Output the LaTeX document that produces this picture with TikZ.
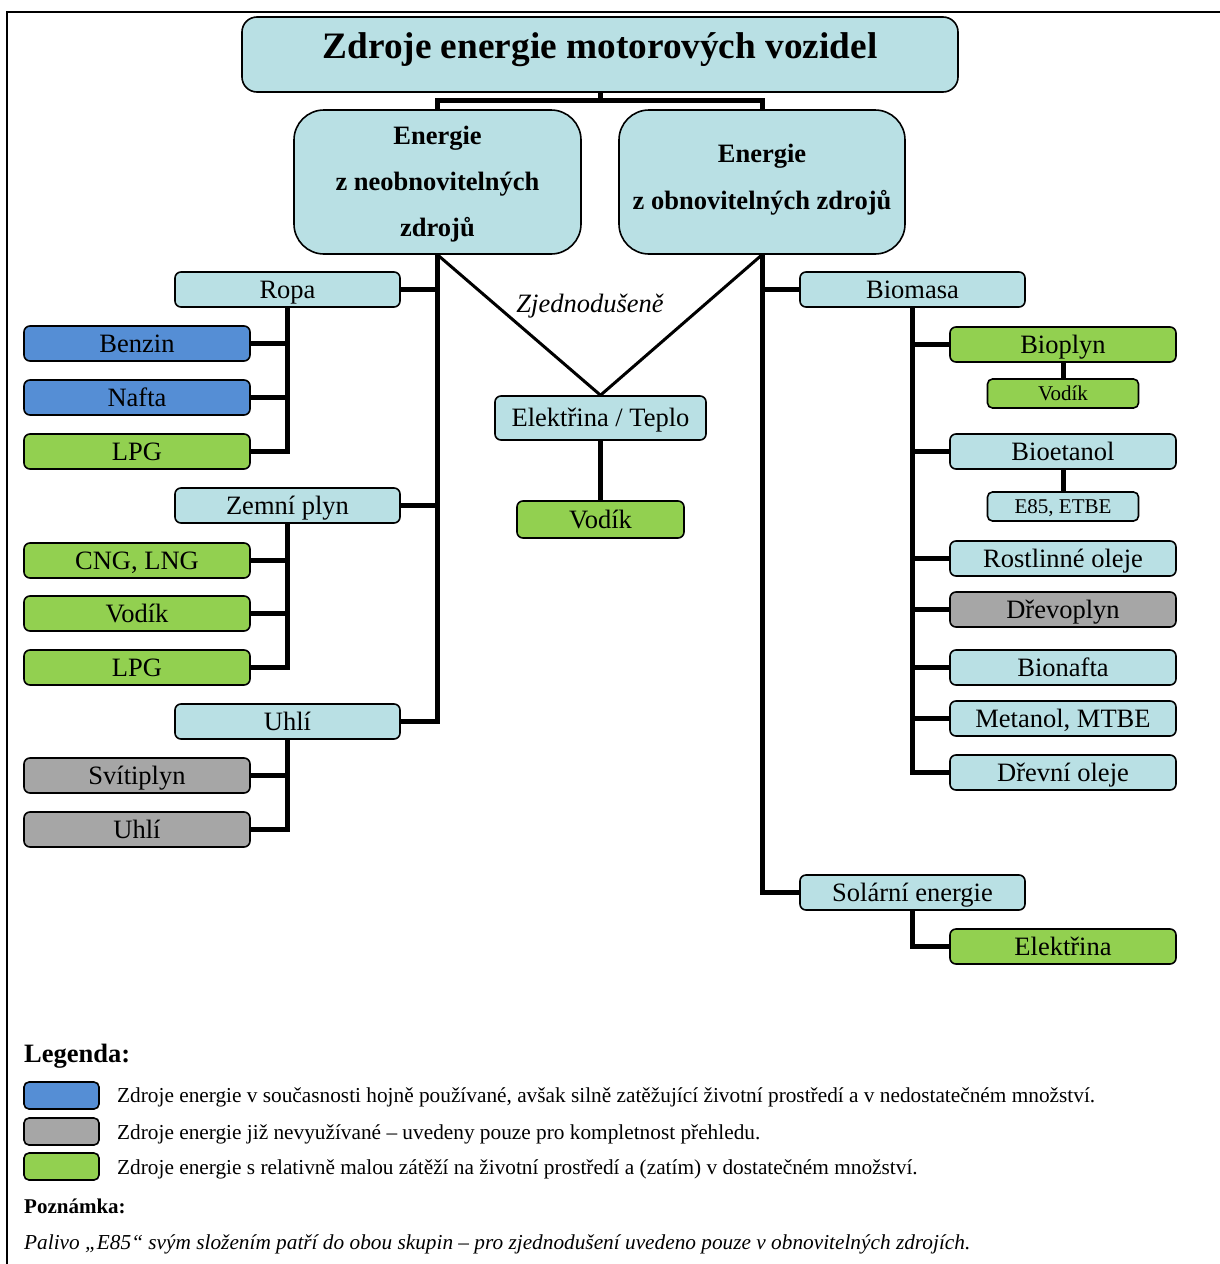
\documentclass[tikz,border=0pt]{standalone}
\usepackage{fontspec}
\setmainfont{Liberation Serif}
\usetikzlibrary{backgrounds}

\definecolor{paleblue}{RGB}{185,224,228}
\definecolor{oilblue}{RGB}{85,142,213}
\definecolor{leafgreen}{RGB}{146,208,80}
\definecolor{oldgray}{RGB}{166,166,166}

\tikzset{
  basebox/.style={draw=black, line width=1.6pt, inner sep=0pt, fill=paleblue},
  cat/.style={basebox, rounded corners=6pt, minimum width=225pt, minimum height=35pt,
    font=\fontsize{26.5}{30}\selectfont, text height=17.5pt, text depth=0pt},
  smallbox/.style={basebox, rounded corners=5pt, minimum width=151pt, minimum height=29pt,
    font=\fontsize{21}{24}\selectfont, text height=14pt, text depth=0pt},
  bigbox/.style={basebox, rounded corners=30pt, minimum width=287pt, minimum height=144pt},
  bigtext/.style={font=\bfseries\fontsize{26.5}{30}\selectfont, anchor=base, inner sep=0pt},
  conn/.style={line width=5pt, line join=miter},
  diag/.style={line width=3pt},
  swatch/.style={basebox, rounded corners=5pt, minimum width=75pt, minimum height=27pt},
  legtext/.style={font=\fontsize{21.3}{24}\selectfont, anchor=base west, inner sep=0pt},
}

\begin{document}
\begin{tikzpicture}[x=1pt, y=-1pt]
\useasboundingbox (0,0) rectangle (1220,1264);

% title
\node[basebox, rounded corners=15pt, minimum width=716pt, minimum height=75pt,
  font=\bfseries\fontsize{37.3}{40}\selectfont, text height=25pt, text depth=17pt]
  (title) at (600,54.5) {Zdroje energie motorových vozidel};

% the two main groups
\node[bigbox] (nonren) at (437.5,182) {};
\node[bigtext] (nonrenA) at (437.5,144) {Energie};
\node[bigtext] (nonrenB) at (437.5,190) {z neobnovitelných};
\node[bigtext] (nonrenC) at (437.5,236) {zdrojů};

\node[bigbox, minimum width=286pt] (renew) at (762,182) {};
\node[bigtext] (renewA) at (762,162) {Energie};
\node[bigtext] (renewB) at (762,209) {z obnovitelných zdrojů};

% non-renewable branch
\node[cat] (ropa) at (287.5,289.5) {Ropa};
\node[cat, minimum width=226pt, fill=oilblue] (benzin) at (137,343.5) {Benzin};
\node[cat, minimum width=226pt, fill=oilblue] (nafta) at (137,397.5) {Nafta};
\node[cat, minimum width=226pt, fill=leafgreen] (lpga) at (137,451.5) {LPG};

\node[cat] (zemni) at (287.5,505.5) {Zemní plyn};
\node[cat, minimum width=226pt, fill=leafgreen] (cng) at (137,560.5) {CNG, LNG};
\node[cat, minimum width=226pt, fill=leafgreen] (vodika) at (137,613.5) {Vodík};
\node[cat, minimum width=226pt, fill=leafgreen] (lpgb) at (137,667.5) {LPG};

\node[cat] (uhlia) at (287.5,721.5) {Uhlí};
\node[cat, minimum width=226pt, fill=oldgray] (svitiplyn) at (137,775.5) {Svítiplyn};
\node[cat, minimum width=226pt, fill=oldgray] (uhlib) at (137,829.5) {Uhlí};

% shared branch
\node[font=\itshape\fontsize{26.5}{30}\selectfont, inner sep=0pt] (simpl) at (590,306) {Zjednodušeně};
\node[cat, minimum width=211pt, minimum height=44pt] (elt) at (600.5,418) {Elektřina / Teplo};
\node[cat, minimum width=167pt, minimum height=37pt, fill=leafgreen] (vodikc) at (600.5,519.5) {Vodík};

% renewable branch
\node[cat] (biomasa) at (912.5,289.5) {Biomasa};
\node[cat, minimum width=226pt, fill=leafgreen] (bioplyn) at (1063,344.5) {Bioplyn};
\node[smallbox, fill=leafgreen] (vodikd) at (1063,393.5) {Vodík};
\node[cat, minimum width=226pt] (bioetanol) at (1063,451.5) {Bioetanol};
\node[smallbox] (e85) at (1063,506.5) {E85, ETBE};
\node[cat, minimum width=226pt] (rostlinne) at (1063,558.5) {Rostlinné oleje};
\node[cat, minimum width=226pt, fill=oldgray] (drevoplyn) at (1063,609.5) {Dřevoplyn};
\node[cat, minimum width=226pt] (bionafta) at (1063,667.5) {Bionafta};
\node[cat, minimum width=226pt] (metanol) at (1063,718.5) {Metanol, MTBE};
\node[cat, minimum width=226pt] (drevni) at (1063,772.5) {Dřevní oleje};

\node[cat] (solar) at (912.5,892.5) {Solární energie};
\node[cat, minimum width=226pt, fill=leafgreen] (elektrina) at (1063,946.5) {Elektřina};

% legend
\node[font=\bfseries\fontsize{26.5}{30}\selectfont, anchor=base west, inner sep=0pt] (leghead) at (24,1062) {Legenda:};
\node[swatch, fill=oilblue] (swblue) at (61.5,1095.5) {};
\node[swatch, fill=oldgray] (swgray) at (61.5,1131.5) {};
\node[swatch, fill=leafgreen] (swgreen) at (61.5,1166.5) {};
\node[legtext] (lgblue) at (117,1102.5) {Zdroje energie v současnosti hojně používané, avšak silně zatěžující životní prostředí a v nedostatečném množství.};
\node[legtext] (lggray) at (117,1139) {Zdroje energie již nevyužívané – uvedeny pouze pro kompletnost přehledu.};
\node[legtext] (lggreen) at (117,1174.5) {Zdroje energie s relativně malou zátěží na životní prostředí a (zatím) v dostatečném množství.};
\node[font=\bfseries\fontsize{21}{24}\selectfont, anchor=base west, inner sep=0pt] (notehead) at (24,1213) {Poznámka:};
\node[font=\itshape\fontsize{21.3}{24}\selectfont, anchor=base west, inner sep=0pt] (note) at (24,1249) {Palivo „E85“ svým složením patří do obou skupin – pro zjednodušení uvedeno pouze v obnovitelných zdrojích.};

\begin{pgfonlayer}{background}
  \fill[white] (0,0) rectangle (1220,1264);
  % page frame
  \draw[line width=2pt] (1222,12) -- (7,12) -- (7,1266);

  % top level
  \draw[conn] (title.south) -- ++(0,9);
  \draw[conn] (nonren.north) -- ++(0,-9) -| (renew.north);

  % non-renewable tree
  \draw[conn] (nonren.south) |- (uhlia.east);
  \draw[conn] (ropa.east) -- (ropa.east -| nonren.south);
  \draw[conn] (zemni.east) -- (zemni.east -| nonren.south);

  \draw[conn] (ropa.south) |- (lpga.east);
  \draw[conn] (benzin.east) -- (benzin.east -| ropa.south);
  \draw[conn] (nafta.east) -- (nafta.east -| ropa.south);

  \draw[conn] (zemni.south) |- (lpgb.east);
  \draw[conn] (cng.east) -- (cng.east -| zemni.south);
  \draw[conn] (vodika.east) -- (vodika.east -| zemni.south);

  \draw[conn] (uhlia.south) |- (uhlib.east);
  \draw[conn] (svitiplyn.east) -- (svitiplyn.east -| uhlia.south);

  % shared electricity branch
  \draw[diag] (nonren.south) -- (elt.north);
  \draw[diag] (renew.south) -- (elt.north);
  \draw[conn] (elt.south) -- (vodikc.north);

  % renewable tree
  \draw[conn] (renew.south) |- (solar.west);
  \draw[conn] (biomasa.west) -- (biomasa.west -| renew.south);

  \draw[conn] (biomasa.south) |- (drevni.west);
  \foreach \n in {bioplyn,bioetanol,rostlinne,drevoplyn,bionafta,metanol}
    \draw[conn] (\n.west) -- (\n.west -| biomasa.south);
  \draw[conn] (bioplyn.south) -- (vodikd.north);
  \draw[conn] (bioetanol.south) -- (e85.north);

  \draw[conn] (solar.south) |- (elektrina.west);
\end{pgfonlayer}
\end{tikzpicture}
\end{document}
